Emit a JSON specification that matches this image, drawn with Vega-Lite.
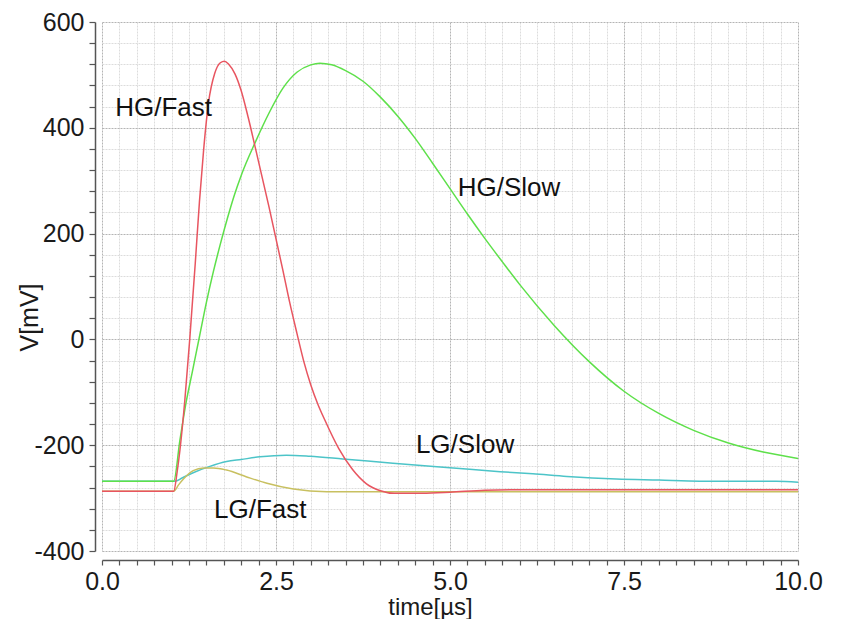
{
  "$schema": "https://vega.github.io/schema/vega-lite/v6.json",
  "width": 696,
  "height": 529,
  "autosize": {"type": "none"},
  "padding": {"left": 102, "top": 22, "right": 45, "bottom": 68},
  "background": "white",
  "config": {
    "view": {"stroke": null},
    "font": "Liberation Sans",
    "axis": {
      "domainColor": "#555555",
      "domainWidth": 1.5,
      "ticks": true,
      "tickColor": "#555555",
      "tickWidth": 1.2,
      "tickSize": 6,
      "labelFont": "Liberation Sans",
      "labelFontSize": 25,
      "labelColor": "#1a1a1a",
      "labelOverlap": false,
      "labelFlush": false,
      "titleFont": "Liberation Sans",
      "titleFontSize": 25,
      "titleFontWeight": "normal",
      "titleColor": "#1a1a1a",
      "gridDash": [2, 1],
      "gridWidth": 1
    }
  },
  "encoding": {
    "x": {
      "field": "t",
      "type": "quantitative",
      "scale": {"domain": [0, 10], "nice": false, "zero": false},
      "axis": {
        "title": "time[µs]",
        "offset": 9,
        "ticks": true,
        "tickSize": 5,
        "labelOverlap": false,
        "values": [0, 0.25, 0.5, 0.75, 1, 1.25, 1.5, 1.75, 2, 2.25, 2.5, 2.75, 3, 3.25, 3.5, 3.75, 4, 4.25, 4.5, 4.75, 5, 5.25, 5.5, 5.75, 6, 6.25, 6.5, 6.75, 7, 7.25, 7.5, 7.75, 8, 8.25, 8.5, 8.75, 9, 9.25, 9.5, 9.75, 10],
        "labelExpr": "datum.value % 2.5 === 0 ? format(datum.value, '.1f') : ''",
        "labelPadding": 4,
        "titlePadding": 1,
        "titleFontSize": 24,
        "titleX": 328,
        "gridColor": {"condition": {"test": "datum.value % 2.5 === 0", "value": "#b4b4b4"}, "value": "#dcdcdc"}
      }
    },
    "y": {
      "field": "v",
      "type": "quantitative",
      "scale": {"domain": [-400, 600], "nice": false, "zero": false},
      "axis": {
        "title": "V[mV]",
        "offset": 7,
        "ticks": true,
        "tickSize": 6,
        "labelOverlap": false,
        "values": [-400, -360, -320, -280, -240, -200, -160, -120, -80, -40, 0, 40, 80, 120, 160, 200, 240, 280, 320, 360, 400, 440, 480, 520, 560, 600],
        "labelExpr": "datum.value % 200 === 0 ? '' + datum.value : ''",
        "labelPadding": 5,
        "titlePadding": -9,
        "titleY": 295,
        "gridColor": {"condition": {"test": "datum.value % 200 === 0", "value": "#b4b4b4"}, "value": "#dcdcdc"}
      }
    }
  },
  "layer": [
    {
      "data": {
        "values": [
          {"t": 0, "v": -268, "s": "LG/Slow"},
          {"t": 1.05, "v": -268, "s": "LG/Slow"},
          {"t": 1.15, "v": -262, "s": "LG/Slow"},
          {"t": 1.31, "v": -252, "s": "LG/Slow"},
          {"t": 1.55, "v": -240, "s": "LG/Slow"},
          {"t": 1.79, "v": -231, "s": "LG/Slow"},
          {"t": 2.0, "v": -227, "s": "LG/Slow"},
          {"t": 2.27, "v": -222, "s": "LG/Slow"},
          {"t": 2.65, "v": -219, "s": "LG/Slow"},
          {"t": 2.99, "v": -221, "s": "LG/Slow"},
          {"t": 3.46, "v": -226, "s": "LG/Slow"},
          {"t": 4.18, "v": -234, "s": "LG/Slow"},
          {"t": 5.14, "v": -244, "s": "LG/Slow"},
          {"t": 5.72, "v": -250, "s": "LG/Slow"},
          {"t": 6.19, "v": -254, "s": "LG/Slow"},
          {"t": 6.68, "v": -259, "s": "LG/Slow"},
          {"t": 7.39, "v": -264, "s": "LG/Slow"},
          {"t": 8.0, "v": -266, "s": "LG/Slow"},
          {"t": 8.59, "v": -268, "s": "LG/Slow"},
          {"t": 9.69, "v": -268, "s": "LG/Slow"},
          {"t": 10, "v": -270, "s": "LG/Slow"},

          {"t": 0, "v": -268, "s": "HG/Slow"},
          {"t": 1.03, "v": -268, "s": "HG/Slow"},
          {"t": 1.12, "v": -190, "s": "HG/Slow"},
          {"t": 1.2, "v": -125, "s": "HG/Slow"},
          {"t": 1.3, "v": -60, "s": "HG/Slow"},
          {"t": 1.4, "v": 5, "s": "HG/Slow"},
          {"t": 1.5, "v": 70, "s": "HG/Slow"},
          {"t": 1.6, "v": 128, "s": "HG/Slow"},
          {"t": 1.7, "v": 180, "s": "HG/Slow"},
          {"t": 1.8, "v": 228, "s": "HG/Slow"},
          {"t": 1.9, "v": 272, "s": "HG/Slow"},
          {"t": 2.0, "v": 310, "s": "HG/Slow"},
          {"t": 2.2, "v": 372, "s": "HG/Slow"},
          {"t": 2.4, "v": 428, "s": "HG/Slow"},
          {"t": 2.6, "v": 475, "s": "HG/Slow"},
          {"t": 2.8, "v": 505, "s": "HG/Slow"},
          {"t": 3.0, "v": 519, "s": "HG/Slow"},
          {"t": 3.13, "v": 522, "s": "HG/Slow"},
          {"t": 3.3, "v": 519, "s": "HG/Slow"},
          {"t": 3.5, "v": 508, "s": "HG/Slow"},
          {"t": 3.75, "v": 488, "s": "HG/Slow"},
          {"t": 4.0, "v": 458, "s": "HG/Slow"},
          {"t": 4.25, "v": 422, "s": "HG/Slow"},
          {"t": 4.5, "v": 380, "s": "HG/Slow"},
          {"t": 4.75, "v": 333, "s": "HG/Slow"},
          {"t": 5.0, "v": 285, "s": "HG/Slow"},
          {"t": 5.25, "v": 237, "s": "HG/Slow"},
          {"t": 5.5, "v": 191, "s": "HG/Slow"},
          {"t": 5.75, "v": 147, "s": "HG/Slow"},
          {"t": 6.0, "v": 104, "s": "HG/Slow"},
          {"t": 6.5, "v": 26, "s": "HG/Slow"},
          {"t": 7.0, "v": -42, "s": "HG/Slow"},
          {"t": 7.5, "v": -98, "s": "HG/Slow"},
          {"t": 8.0, "v": -140, "s": "HG/Slow"},
          {"t": 8.5, "v": -172, "s": "HG/Slow"},
          {"t": 9.0, "v": -196, "s": "HG/Slow"},
          {"t": 9.5, "v": -213, "s": "HG/Slow"},
          {"t": 10, "v": -225, "s": "HG/Slow"},

          {"t": 0, "v": -287, "s": "LG/Fast"},
          {"t": 1.03, "v": -287, "s": "LG/Fast"},
          {"t": 1.10, "v": -275, "s": "LG/Fast"},
          {"t": 1.17, "v": -264, "s": "LG/Fast"},
          {"t": 1.31, "v": -248, "s": "LG/Fast"},
          {"t": 1.46, "v": -243, "s": "LG/Fast"},
          {"t": 1.6, "v": -243, "s": "LG/Fast"},
          {"t": 1.79, "v": -247, "s": "LG/Fast"},
          {"t": 2.08, "v": -260, "s": "LG/Fast"},
          {"t": 2.37, "v": -272, "s": "LG/Fast"},
          {"t": 2.75, "v": -283, "s": "LG/Fast"},
          {"t": 3.23, "v": -288, "s": "LG/Fast"},
          {"t": 10, "v": -288, "s": "LG/Fast"},

          {"t": 0, "v": -287, "s": "HG/Fast"},
          {"t": 1.03, "v": -287, "s": "HG/Fast"},
          {"t": 1.08, "v": -250, "s": "HG/Fast"},
          {"t": 1.12, "v": -209, "s": "HG/Fast"},
          {"t": 1.19, "v": -115, "s": "HG/Fast"},
          {"t": 1.26, "v": -1, "s": "HG/Fast"},
          {"t": 1.34, "v": 144, "s": "HG/Fast"},
          {"t": 1.40, "v": 260, "s": "HG/Fast"},
          {"t": 1.46, "v": 358, "s": "HG/Fast"},
          {"t": 1.53, "v": 447, "s": "HG/Fast"},
          {"t": 1.62, "v": 503, "s": "HG/Fast"},
          {"t": 1.70, "v": 523, "s": "HG/Fast"},
          {"t": 1.76, "v": 526, "s": "HG/Fast"},
          {"t": 1.82, "v": 520, "s": "HG/Fast"},
          {"t": 1.91, "v": 502, "s": "HG/Fast"},
          {"t": 2.0, "v": 470, "s": "HG/Fast"},
          {"t": 2.10, "v": 420, "s": "HG/Fast"},
          {"t": 2.20, "v": 364, "s": "HG/Fast"},
          {"t": 2.4, "v": 250, "s": "HG/Fast"},
          {"t": 2.6, "v": 130, "s": "HG/Fast"},
          {"t": 2.7, "v": 68, "s": "HG/Fast"},
          {"t": 2.8, "v": 12, "s": "HG/Fast"},
          {"t": 2.9, "v": -42, "s": "HG/Fast"},
          {"t": 3.0, "v": -86, "s": "HG/Fast"},
          {"t": 3.1, "v": -122, "s": "HG/Fast"},
          {"t": 3.2, "v": -152, "s": "HG/Fast"},
          {"t": 3.4, "v": -206, "s": "HG/Fast"},
          {"t": 3.6, "v": -246, "s": "HG/Fast"},
          {"t": 3.8, "v": -273, "s": "HG/Fast"},
          {"t": 4.0, "v": -286, "s": "HG/Fast"},
          {"t": 4.2, "v": -291, "s": "HG/Fast"},
          {"t": 4.6, "v": -291, "s": "HG/Fast"},
          {"t": 5.0, "v": -289, "s": "HG/Fast"},
          {"t": 5.5, "v": -285, "s": "HG/Fast"},
          {"t": 6.0, "v": -284, "s": "HG/Fast"},
          {"t": 10, "v": -284, "s": "HG/Fast"}
        ]
      },
      "mark": {"type": "line", "strokeWidth": 1.5, "interpolate": "monotone", "clip": true},
      "encoding": {
        "color": {
          "field": "s",
          "type": "nominal",
          "scale": {"domain": ["LG/Slow", "HG/Slow", "LG/Fast", "HG/Fast"], "range": ["#4cc4c8", "#5ee04a", "#c8c060", "#e85560"]},
          "legend": null
        }
      }
    },
    {
      "data": {
        "values": [
          {"t": 0.19, "v": 437, "label": "HG/Fast"},
          {"t": 5.11, "v": 286, "label": "HG/Slow"},
          {"t": 4.51, "v": -200, "label": "LG/Slow"},
          {"t": 1.61, "v": -322, "label": "LG/Fast"}
        ]
      },
      "mark": {"type": "text", "align": "left", "baseline": "middle", "fontSize": 26, "font": "Liberation Sans", "color": "#111111"},
      "encoding": {
        "text": {"field": "label"}
      }
    }
  ]
}
